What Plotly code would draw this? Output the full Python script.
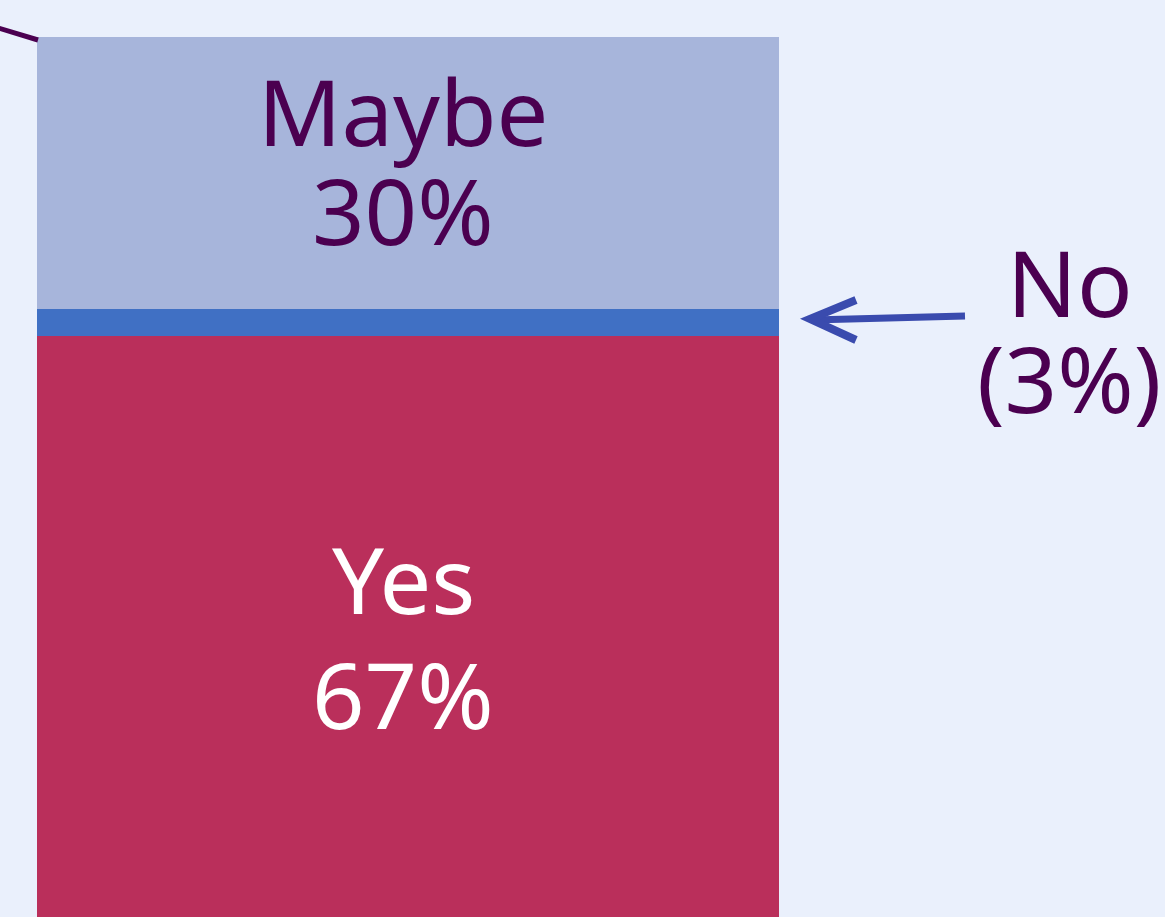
import plotly.graph_objects as go

# ---- data ----
answers = ["Yes", "No", "Maybe"]
shares = [67, 3, 30]
bar_colors = ["#BA2F5B", "#4070C4", "#A7B5DB"]
label_colors = ["#FFFFFF", "#4B0050", "#4B0050"]

W, H = 1165, 917
ML, MR, MT, MB = 37, 386, 37, 0
PW, PH = W - ML - MR, H - MT - MB

def px(x):
    return (x - ML) / PW

def py(y):
    return 1 - (y - MT) / PH

fig = go.Figure()
for name, val, col in zip(answers, shares, bar_colors):
    fig.add_trace(go.Bar(x=["Q"], y=[val], name=name, marker=dict(color=col, line=dict(width=0)),
                         width=1, hoverinfo="skip", showlegend=False))

FONT = "Noto Sans"
FS = 92
DARK = "#4B0050"

# labels inside bar segments (two lines each)
ann = []
def lab(text, x, yc, color):
    ann.append(dict(x=px(x), y=py(yc), xref="paper", yref="paper", text=text, showarrow=False,
                    xanchor="center", yanchor="middle", font=dict(family=FONT, size=FS, color=color)))

lab(answers[2], 403, 110, label_colors[2])
lab(f"{shares[2]}%", 403, 210, label_colors[2])
lab(answers[0], 403, 578, label_colors[0])
lab(f"{shares[0]}%", 403, 693, label_colors[0])
lab(answers[1], 1070, 281, DARK)
lab(f"({shares[1]}%)", 1069, 378, DARK)

shapes = []
# line at top-left
shapes.append(dict(type="line", xref="paper", yref="paper", x0=px(-5), y0=py(27), x1=px(38), y1=py(40),
                   line=dict(color=DARK, width=5)))
# arrow pointing to "No"
ARROW = "#3A4BAE"
def P(x, y):
    return f"{px(x)},{py(y)}"
shapes.append(dict(type="path", xref="paper", yref="paper",
                   path=f"M {P(965,316)} L {P(812,320)}",
                   line=dict(color=ARROW, width=7)))
shapes.append(dict(type="path", xref="paper", yref="paper",
                   path=f"M {P(856,300)} L {P(810,319)} L {P(856,340)}",
                   line=dict(color=ARROW, width=8)))

fig.update_layout(
    width=W, height=H, barmode="stack", bargap=0,
    margin=dict(l=ML, r=MR, t=MT, b=MB, pad=0),
    paper_bgcolor="#EAF0FC", plot_bgcolor="#EAF0FC",
    xaxis=dict(visible=False, range=[-0.5, 0.5]),
    yaxis=dict(visible=False, range=[2.9, 100]),
    annotations=ann, shapes=shapes,
)
fig.write_html("out.html")
